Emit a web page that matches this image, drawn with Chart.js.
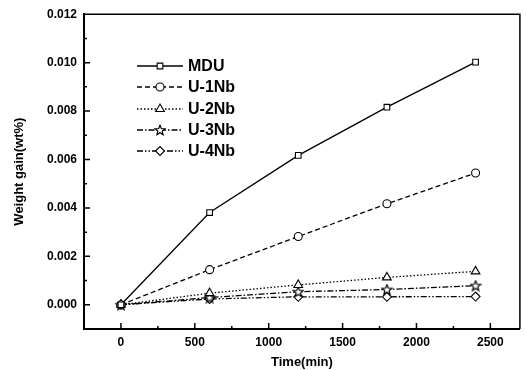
<!DOCTYPE html>
<html>
<head>
<meta charset="utf-8">
<script src="https://cdn.jsdelivr.net/npm/chart.js@4/dist/chart.umd.min.js"></script>
<style>
  body { margin: 0; background: #fff; }
  canvas { display: block; }
</style>
</head>
<body>
<canvas id="wg" width="526" height="370"></canvas>
<script>
// data
const times = [0, 600, 1200, 1800, 2400]; // min
const seriesNames = ['MDU', 'U-1Nb', 'U-2Nb', 'U-3Nb', 'U-4Nb'];
const mdu = [0, 0.00381, 0.00617, 0.00816, 0.01002];
const u1Nb = [0, 0.00145, 0.00282, 0.00417, 0.00544];
const u2Nb = [0, 0.00048, 0.00082, 0.00113, 0.00138];
const u3Nb = [0, 0.00030, 0.00054, 0.00063, 0.00079];
const u4Nb = [0, 0.00024, 0.00033, 0.00033, 0.00034];
const xTicks = [0, 500, 1000, 1500, 2000, 2500];
const yTicks = [0, 0.002, 0.004, 0.006, 0.008, 0.010, 0.012];

const FONT = '"Liberation Sans", Arial, sans-serif';

// little open star for U-3Nb
function makeStar() {
  const c = document.createElement('canvas');
  c.width = 12; c.height = 12;
  const g = c.getContext('2d');
  g.beginPath();
  for (let i = 0; i < 10; i++) {
    const r = i % 2 === 0 ? 5.2 : 2.3;
    const a = -Math.PI / 2 + i * Math.PI / 5;
    const px = 6 + r * Math.cos(a), py = 6.4 + r * Math.sin(a);
    if (i === 0) g.moveTo(px, py); else g.lineTo(px, py);
  }
  g.closePath();
  g.fillStyle = '#fff';
  g.fill();
  g.strokeStyle = '#000';
  g.lineWidth = 1.2;
  g.stroke();
  return c;
}
const star = makeStar();

function pts(vals) {
  return times.map((t, i) => ({ x: t, y: vals[i] }));
}

function ds(label, vals, dash, style, radius) {
  return {
    label: label,
    data: pts(vals),
    borderColor: '#000',
    borderWidth: 1.3,
    borderDash: dash,
    backgroundColor: '#fff',
    pointStyle: style,
    pointRadius: radius,
    pointBorderWidth: 1.1,
    pointBorderColor: '#000',
    pointBackgroundColor: '#fff',
    fill: false,
    tension: 0
  };
}

const data = {
  datasets: [
    ds(seriesNames[0], mdu, [], 'rect', 4),
    ds(seriesNames[1], u1Nb, [5, 3], 'circle', 4),
    ds(seriesNames[2], u2Nb, [1.5, 2], 'triangle', 5),
    ds(seriesNames[3], u3Nb, [6, 2, 1.5, 2], star, 5),
    ds(seriesNames[4], u4Nb, [6, 2, 1.5, 2, 1.5, 2], 'rectRot', 4.5)
  ]
};

// inward ticks, thin top/right frame
const frameTicks = {
  id: 'frameTicks',
  afterDraw(chart) {
    const { ctx, chartArea: a, scales: { x, y } } = chart;
    ctx.save();
    ctx.strokeStyle = '#000';
    ctx.lineWidth = 1.5;
    ctx.beginPath();
    ctx.moveTo(a.left, a.top);
    ctx.lineTo(a.right, a.top);
    ctx.lineTo(a.right, a.bottom);
    ctx.stroke();

    ctx.beginPath();
    // major every 500, minor every 250
    for (let v = -250; v <= 2700; v += 250) {
      const px = x.getPixelForValue(v);
      if (px <= a.left + 1 || px >= a.right - 1) continue;
      const len = v % 500 === 0 ? 6 : 3;
      ctx.moveTo(px, a.bottom);
      ctx.lineTo(px, a.bottom - len);
    }
    // major every 0.002, minor every 0.001
    for (let k = -1; k <= 12; k++) {
      const py = y.getPixelForValue(k * 0.001);
      if (py >= a.bottom - 1 || py <= a.top + 1) continue;
      const len = k % 2 === 0 ? 6 : 3;
      ctx.moveTo(a.left, py);
      ctx.lineTo(a.left + len, py);
    }
    ctx.stroke();
    ctx.restore();
  }
};

// legend with line sample and marker, like Origin
const originLegend = {
  id: 'originLegend',
  afterDraw(chart) {
    const ctx = chart.ctx;
    const x0 = 137, x1 = 183, tx = 188;
    const rows = [66, 87, 109, 130, 151];
    ctx.save();
    chart.data.datasets.forEach((d, i) => {
      const yy = rows[i];
      ctx.strokeStyle = '#000';
      ctx.lineWidth = 1.3;
      ctx.setLineDash(d.borderDash);
      ctx.beginPath();
      ctx.moveTo(x0, yy);
      ctx.lineTo(x1, yy);
      ctx.stroke();
      ctx.setLineDash([]);
      ctx.fillStyle = '#fff';
      ctx.lineWidth = 1.1;
      Chart.helpers.drawPoint(ctx, {
        pointStyle: d.pointStyle, radius: d.pointRadius, rotation: 0, borderWidth: 1.1
      }, (x0 + x1) / 2, yy);
      ctx.fillStyle = '#000';
      ctx.font = 'bold 16px ' + FONT;
      ctx.textBaseline = 'middle';
      ctx.fillText(d.label, tx, yy + 1);
    });
    ctx.restore();
  }
};

new Chart(document.getElementById('wg'), {
  type: 'line',
  data: data,
  options: {
    responsive: false,
    animation: false,
    devicePixelRatio: 1,
    layout: { padding: { left: 0, right: 3, top: 13, bottom: 0 } },
    plugins: { legend: { display: false }, tooltip: { enabled: false } },
    scales: {
      x: {
        type: 'linear',
        min: -250,
        max: 2700,
        afterFit(s) { s.height = 41; },
        afterBuildTicks(s) { s.ticks = xTicks.map(v => ({ value: v })); },
        grid: { display: false, drawTicks: false },
        border: { display: true, color: '#000', width: 2 },
        ticks: {
          padding: 6,
          color: '#000',
          font: { family: FONT, size: 12, weight: 'bold' },
          maxRotation: 0,
          callback: v => String(v)
        },
        title: {
          display: true,
          text: 'Time(min)',
          color: '#000',
          font: { family: FONT, size: 13, weight: 'bold' },
          padding: { top: 0, bottom: 0 }
        }
      },
      y: {
        min: -0.001,
        max: 0.012,
        afterFit(s) { s.width = 84; },
        afterBuildTicks(s) { s.ticks = yTicks.map(v => ({ value: v })); },
        grid: { display: false, drawTicks: false },
        border: { display: true, color: '#000', width: 2 },
        ticks: {
          padding: 7,
          color: '#000',
          font: { family: FONT, size: 12, weight: 'bold' },
          callback: v => Number(v).toFixed(3)
        },
        title: {
          display: true,
          text: 'Weight gain(wt%)',
          color: '#000',
          font: { family: FONT, size: 13, weight: 'bold' },
          padding: { top: 12, bottom: 0 }
        }
      }
    }
  },
  plugins: [frameTicks, originLegend]
});
</script>
</body>
</html>
